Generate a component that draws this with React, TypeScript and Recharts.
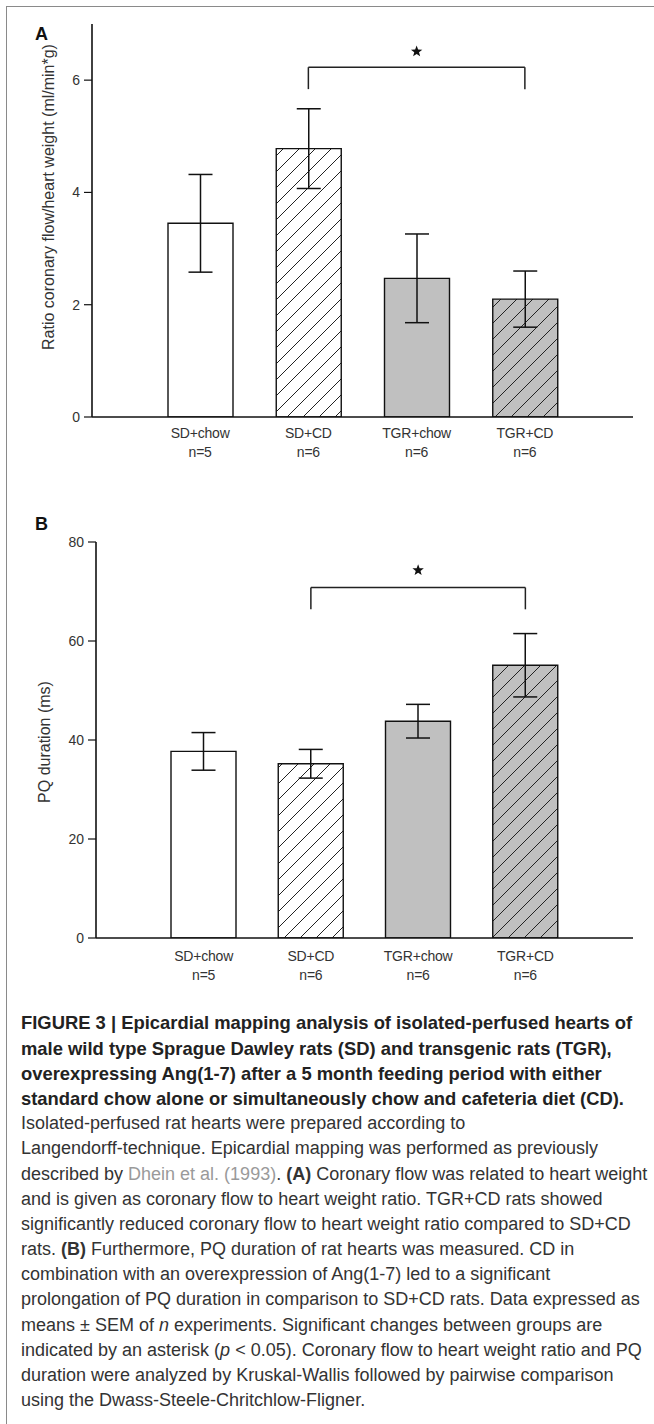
import React from 'react';
import { BarChart, Bar, XAxis, YAxis, ErrorBar, ReferenceLine, ReferenceDot, Cell } from 'recharts';

const groups = ['SD+chow', 'SD+CD', 'TGR+chow', 'TGR+CD'];
const groupN = ['n=5', 'n=6', 'n=6', 'n=6'];
const groupFill = ['#ffffff', 'url(#hatchWhite)', '#c0c0c0', 'url(#hatchGray)'];

const flowMean = [3.45, 4.78, 2.47, 2.1];
const flowSem = [0.87, 0.71, 0.79, 0.5];
const flowTicks = [0, 2, 4, 6];
const flowBracket = { from: 'SD+CD', mid: 'TGR+chow', to: 'TGR+CD', top: 6.23, leg: 5.84, star: 6.51 };

const pqMean = [37.7, 35.2, 43.8, 55.1];
const pqSem = [3.8, 2.9, 3.4, 6.4];
const pqTicks = [0, 20, 40, 60, 80];
const pqBracket = { from: 'SD+CD', mid: 'TGR+chow', to: 'TGR+CD', top: 70.8, leg: 66.4, star: 74.3 };

const flowData = groups.map((g, i) => ({ name: g, n: groupN[i], value: flowMean[i], err: flowSem[i] }));
const pqData = groups.map((g, i) => ({ name: g, n: groupN[i], value: pqMean[i], err: pqSem[i] }));

const FONT = "'Liberation Sans', Arial, sans-serif";

const Star = (props: any) => {
  const { cx, cy } = props;
  const R = 6, r = 2.5;
  const pts: string[] = [];
  for (let i = 0; i < 10; i++) {
    const rad = i % 2 === 0 ? R : r;
    const a = -Math.PI / 2 + (i * Math.PI) / 5;
    pts.push(`${cx + rad * Math.cos(a)},${cy + rad * Math.sin(a)}`);
  }
  return <polygon points={pts.join(' ')} fill="#111" />;
};

const makeXTick = (d1: number, d2: number) => (props: any) => {
  const { x, y, payload, index } = props;
  return (
    <g>
      <text x={x} y={y + d1} textAnchor="middle" fontFamily={FONT} fontSize={14} fill="#333" letterSpacing={-0.2}>{payload.value}</text>
      <text x={x} y={y + d2} textAnchor="middle" fontFamily={FONT} fontSize={14} fill="#333" letterSpacing={-0.2}>{groupN[index]}</text>
    </g>
  );
};

function Panel(props: any) {
  const { data, ticks, domain, bracket, yLabel, labelX, labelY, width, height, top, bottom, left, right, d1, d2 } = props;
  const XT = makeXTick(d1, d2);
  return (
    <BarChart width={width} height={height} data={data} margin={{ top, right, bottom: 0, left: 0 }} barSize={65}>
      <XAxis dataKey="name" xAxisId="b" height={bottom} padding={{ left: 54, right: 54 }}
        axisLine={{ stroke: '#111', strokeWidth: 1.6 }} tickLine={false} tickSize={0} tickMargin={0}
        tick={<XT />} interval={0} />
      <XAxis dataKey="name" xAxisId="t" orientation="top" height={0} padding={{ left: 54, right: 54 }}
        axisLine={{ stroke: '#111', strokeWidth: 1.6 }} tick={false} tickLine={false} />
      <YAxis yAxisId="l" width={left} domain={domain} ticks={ticks} type="number"
        axisLine={{ stroke: '#111', strokeWidth: 1.6 }} tickLine={{ stroke: '#111', strokeWidth: 1.2 }}
        tickSize={8} tickMargin={4} allowDataOverflow
        tick={{ fontFamily: FONT, fontSize: 14, fill: '#333' }}
        label={{
          content: () => (
            <text x={labelX} y={labelY} transform={`rotate(-90, ${labelX}, ${labelY})`} textAnchor="middle" dominantBaseline="central"
              fontFamily={FONT} fontSize={16} fill="#333">{yLabel}</text>
          ),
        }} />
      <YAxis yAxisId="r" orientation="right" width={0} domain={domain} type="number"
        axisLine={{ stroke: '#111', strokeWidth: 1.6 }} tick={false} tickLine={false} />
      <Bar dataKey="value" xAxisId="b" yAxisId="l" stroke="#111" strokeWidth={1.4} isAnimationActive={false}>
        {data.map((d: any, i: number) => <Cell key={d.name} fill={groupFill[i]} />)}
        <ErrorBar dataKey="err" width={12} stroke="#111" strokeWidth={1.5} direction="y" />
      </Bar>
      <ReferenceLine xAxisId="b" yAxisId="l" stroke="#222" strokeWidth={1.5}
        segment={[{ x: bracket.from, y: bracket.top }, { x: bracket.to, y: bracket.top }]} />
      <ReferenceLine xAxisId="b" yAxisId="l" stroke="#222" strokeWidth={1.5}
        segment={[{ x: bracket.from, y: bracket.top }, { x: bracket.from, y: bracket.leg }]} />
      <ReferenceLine xAxisId="b" yAxisId="l" stroke="#222" strokeWidth={1.5}
        segment={[{ x: bracket.to, y: bracket.top }, { x: bracket.to, y: bracket.leg }]} />
      <ReferenceDot xAxisId="b" yAxisId="l" x={bracket.mid} y={bracket.star} r={6} shape={<Star />} />
    </BarChart>
  );
}

const LH = 25.2;
const bodyStyle: React.CSSProperties = { fontFamily: FONT, fontSize: 18, color: '#333', whiteSpace: 'nowrap', height: LH, lineHeight: `${LH}px` };
const boldStyle: React.CSSProperties = { ...bodyStyle, fontSize: 18.4, fontWeight: 700, color: '#222' };

export default function App() {
  const P = 16;
  const hatch = `M0,${P} L${P},0 M${-P / 2},${P / 2} L${P / 2},${-P / 2} M${P / 2},${P * 1.5} L${P * 1.5},${P / 2}`;
  return (
    <div style={{ position: 'absolute', left: 0, top: 0, width: 654, height: 1424, background: '#fff', overflow: 'hidden' }}>
      <svg width={0} height={0} style={{ position: 'absolute' }}>
        <defs>
          <pattern id="hatchWhite" patternUnits="userSpaceOnUse" width={P} height={P}>
            <rect width={P} height={P} fill="#fff" />
            <path d={hatch} stroke="#222" strokeWidth={1} />
          </pattern>
          <pattern id="hatchGray" patternUnits="userSpaceOnUse" width={P} height={P}>
            <rect width={P} height={P} fill="#c0c0c0" />
            <path d={hatch} stroke="#222" strokeWidth={1} />
          </pattern>
        </defs>
      </svg>
      <div style={{ position: 'absolute', left: 6, top: 6, width: 648, height: 0, borderTop: '1.5px solid #8a8a8a' }} />
      <div style={{ position: 'absolute', left: 6, top: 6, width: 0, height: 1418, borderLeft: '1.5px solid #8a8a8a' }} />

      <div style={{ position: 'absolute', left: 0, top: 0 }}>
        <Panel data={flowData} ticks={flowTicks} domain={[0, 7]} bracket={flowBracket}
          yLabel="Ratio coronary flow/heart weight (ml/min*g)" labelX={48} labelY={197}
          width={654} height={480} top={24} bottom={63} left={92} right={21} d1={21} d2={40} />
      </div>

      <div style={{ position: 'absolute', left: 0, top: 470 }}>
        <Panel data={pqData} ticks={pqTicks} domain={[0, 80]} bracket={pqBracket}
          yLabel="PQ duration (ms)" labelX={44} labelY={272}
          width={654} height={540} top={72} bottom={72} left={96} right={21} d1={23} d2={42} />
      </div>

      <svg width={654} height={560} style={{ position: 'absolute', left: 0, top: 0, pointerEvents: 'none' }}>
        <text x={35} y={39.5} fontFamily={FONT} fontSize={18} fontWeight={700} fill="#111">A</text>
        <text x={35} y={530} fontFamily={FONT} fontSize={18} fontWeight={700} fill="#111">B</text>
      </svg>

      <div style={{ position: 'absolute', left: 21, top: 1010.4 }}>
        <div style={boldStyle}>FIGURE 3 | Epicardial mapping analysis of isolated-perfused hearts of</div>
        <div style={boldStyle}>male wild type Sprague Dawley rats (SD) and transgenic rats (TGR),</div>
        <div style={boldStyle}>overexpressing Ang(1-7) after a 5 month feeding period with either</div>
        <div style={boldStyle}>standard chow alone or simultaneously chow and cafeteria diet (CD).</div>
        <div style={bodyStyle}>Isolated-perfused rat hearts were prepared according to</div>
        <div style={bodyStyle}>Langendorff-technique. Epicardial mapping was performed as previously</div>
        <div style={bodyStyle}>described by <span style={{ color: '#9a9a9a' }}>Dhein et al. (1993)</span>. <b>(A)</b> Coronary flow was related to heart weight</div>
        <div style={bodyStyle}>and is given as coronary flow to heart weight ratio. TGR+CD rats showed</div>
        <div style={bodyStyle}>significantly reduced coronary flow to heart weight ratio compared to SD+CD</div>
        <div style={bodyStyle}>rats. <b>(B)</b> Furthermore, PQ duration of rat hearts was measured. CD in</div>
        <div style={bodyStyle}>combination with an overexpression of Ang(1-7) led to a significant</div>
        <div style={bodyStyle}>prolongation of PQ duration in comparison to SD+CD rats. Data expressed as</div>
        <div style={bodyStyle}>means ± SEM of <i>n</i> experiments. Significant changes between groups are</div>
        <div style={bodyStyle}>indicated by an asterisk (<i>p</i> &lt; 0.05). Coronary flow to heart weight ratio and PQ</div>
        <div style={bodyStyle}>duration were analyzed by Kruskal-Wallis followed by pairwise comparison</div>
        <div style={bodyStyle}>using the Dwass-Steele-Chritchlow-Fligner.</div>
      </div>
    </div>
  );
}
